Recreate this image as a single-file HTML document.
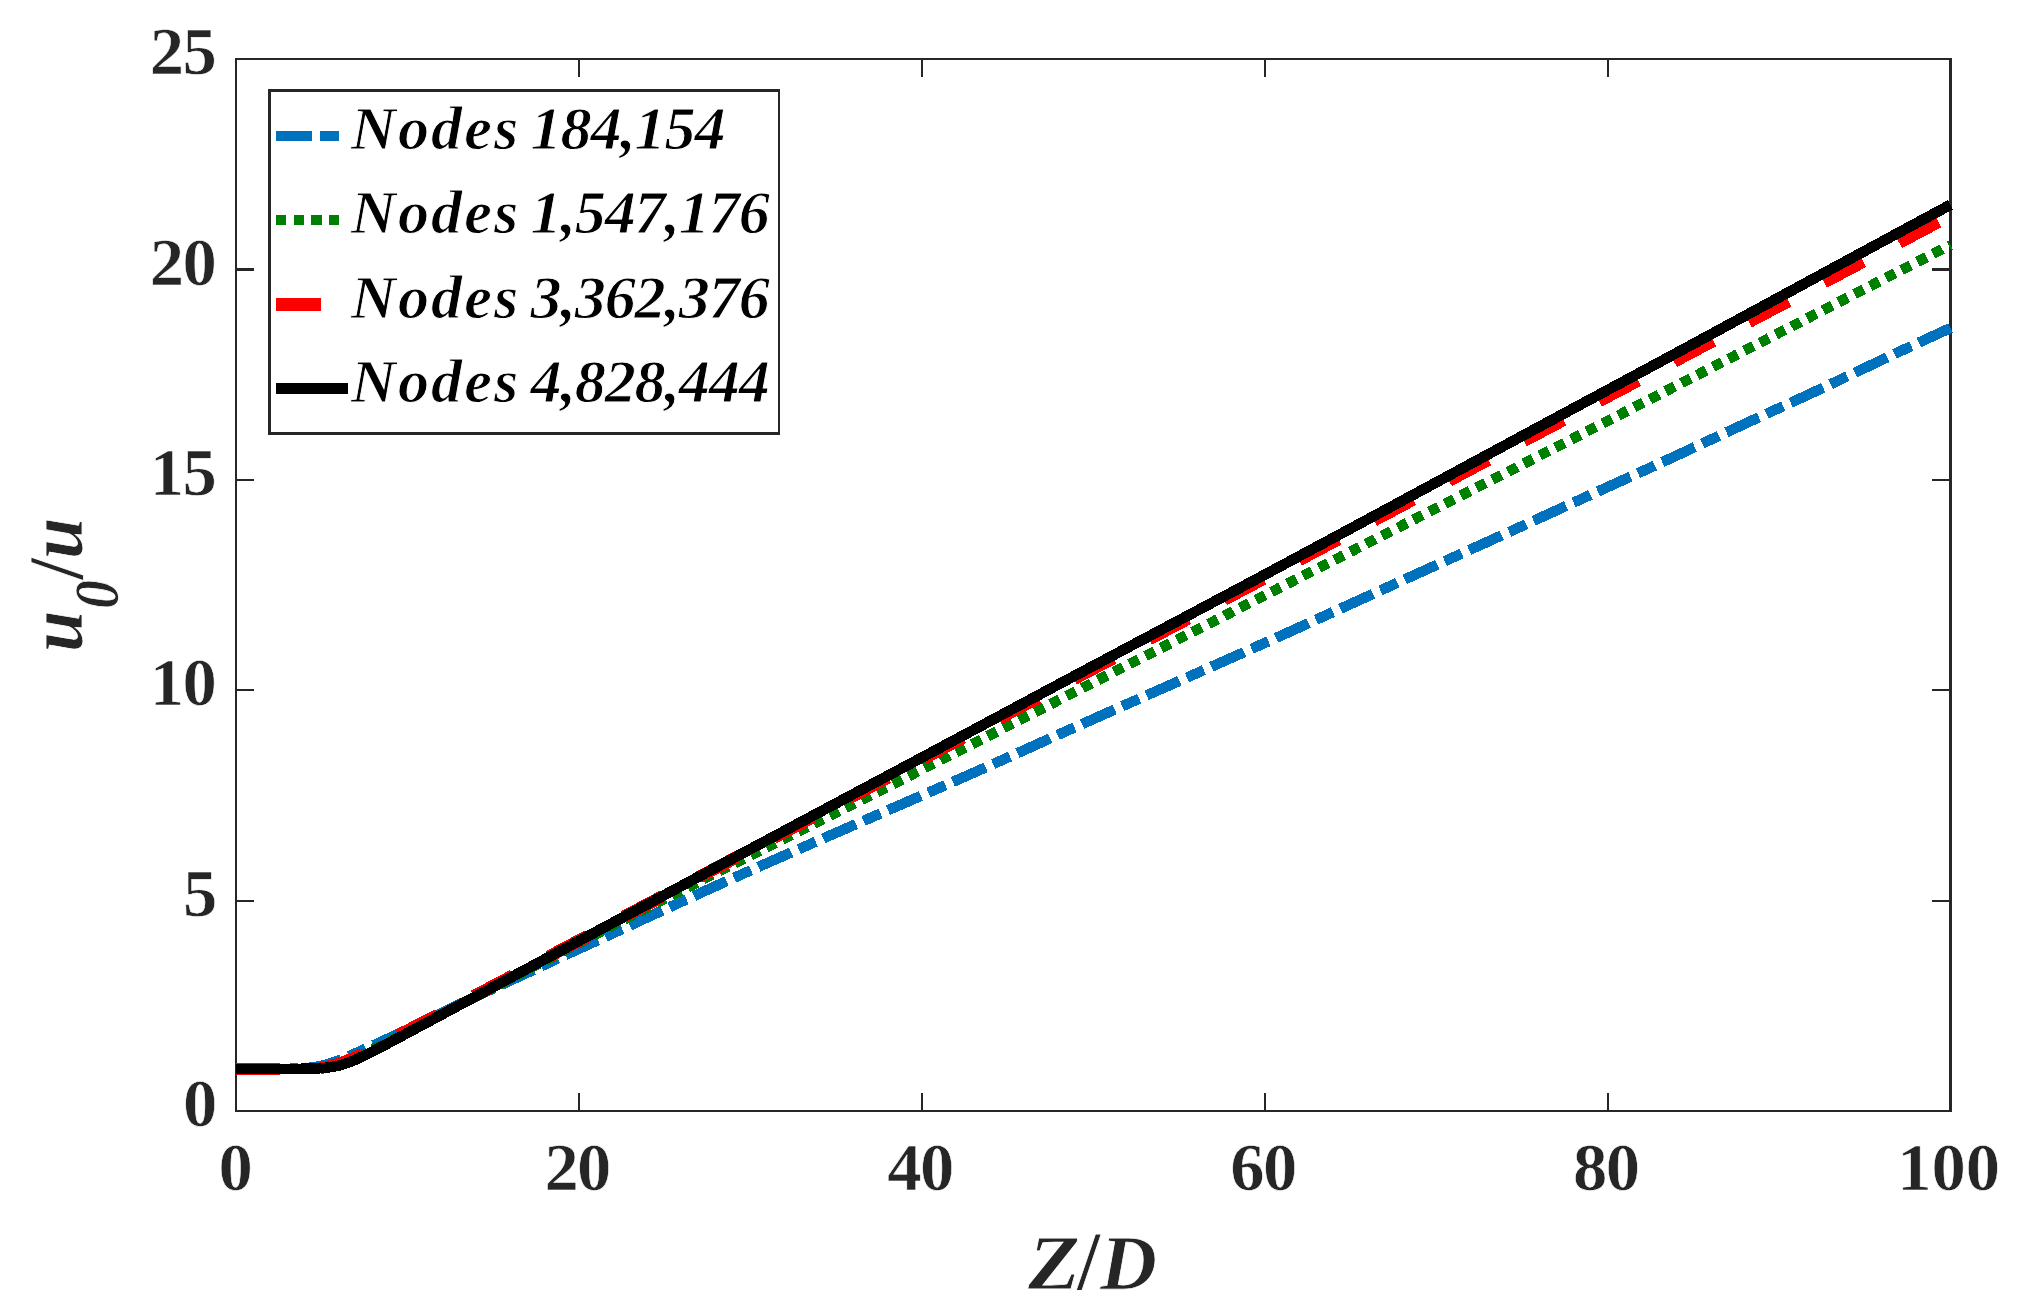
<!DOCTYPE html>
<html lang="en"><head><meta charset="utf-8"><title>Grid independence: u0/u versus Z/D</title>
<style>html,body{margin:0;padding:0;background:#fff}svg{display:block}text{font-family:"Liberation Serif",serif;font-weight:bold}</style></head><body>
<svg width="2040" height="1315" viewBox="0 0 2040 1315">
<rect x="0" y="0" width="2040" height="1315" fill="#fff"/>
<g stroke="#262626" stroke-width="2.2" fill="none" shape-rendering="crispEdges">
<rect x="236.0" y="59.0" width="1714.5" height="1052.0"/>
<line x1="578.90" y1="1111.0" x2="578.90" y2="1092.8"/>
<line x1="578.90" y1="59.0" x2="578.90" y2="77.2"/>
<line x1="921.80" y1="1111.0" x2="921.80" y2="1092.8"/>
<line x1="921.80" y1="59.0" x2="921.80" y2="77.2"/>
<line x1="1264.70" y1="1111.0" x2="1264.70" y2="1092.8"/>
<line x1="1264.70" y1="59.0" x2="1264.70" y2="77.2"/>
<line x1="1607.60" y1="1111.0" x2="1607.60" y2="1092.8"/>
<line x1="1607.60" y1="59.0" x2="1607.60" y2="77.2"/>
<line x1="236.0" y1="900.60" x2="254.2" y2="900.60"/>
<line x1="1950.5" y1="900.60" x2="1932.3" y2="900.60"/>
<line x1="236.0" y1="690.20" x2="254.2" y2="690.20"/>
<line x1="1950.5" y1="690.20" x2="1932.3" y2="690.20"/>
<line x1="236.0" y1="479.80" x2="254.2" y2="479.80"/>
<line x1="1950.5" y1="479.80" x2="1932.3" y2="479.80"/>
<line x1="236.0" y1="269.40" x2="254.2" y2="269.40"/>
<line x1="1950.5" y1="269.40" x2="1932.3" y2="269.40"/>
</g>
<g fill="none" stroke-linejoin="round" shape-rendering="crispEdges">
<polyline id="c-blue" stroke="#0072BD" stroke-width="10.4" stroke-dasharray="35.8 8.2 18.54 8.2" stroke-dashoffset="0" points="236.00,1068.92 237.71,1068.92 239.43,1068.92 241.14,1068.92 242.86,1068.92 244.57,1068.92 246.29,1068.92 248.00,1068.92 249.72,1068.92 251.43,1068.91 253.15,1068.91 254.86,1068.91 256.57,1068.91 258.29,1068.91 260.00,1068.91 261.72,1068.91 263.43,1068.90 265.15,1068.90 266.86,1068.90 268.58,1068.89 270.29,1068.89 272.00,1068.88 273.72,1068.87 275.43,1068.87 277.15,1068.86 278.86,1068.85 280.58,1068.83 282.29,1068.82 284.01,1068.80 285.72,1068.78 287.44,1068.75 289.15,1068.72 290.86,1068.69 292.58,1068.64 294.29,1068.60 296.01,1068.54 297.72,1068.47 299.44,1068.40 301.15,1068.31 302.87,1068.21 304.58,1068.09 306.29,1067.95 308.01,1067.80 309.72,1067.62 311.44,1067.42 313.15,1067.19 314.87,1066.93 316.58,1066.65 318.30,1066.33 320.01,1065.99 321.73,1065.61 323.44,1065.20 325.15,1064.75 326.87,1064.28 328.58,1063.77 330.30,1063.24 332.01,1062.68 333.73,1062.09 335.44,1061.48 337.16,1060.85 338.87,1060.21 340.58,1059.54 342.30,1058.86 344.01,1058.16 345.73,1057.46 347.44,1056.74 349.16,1056.02 350.87,1055.29 352.59,1054.55 354.30,1053.80 356.01,1053.05 357.73,1052.30 359.44,1051.54 361.16,1050.78 362.87,1050.02 364.59,1049.25 366.30,1048.49 368.02,1047.72 369.73,1046.95 371.45,1046.18 373.16,1045.41 374.87,1044.63 376.59,1043.85 378.30,1043.07 380.02,1042.29 381.73,1041.50 383.45,1040.71 385.16,1039.91 386.88,1039.12 388.59,1038.32 390.31,1037.51 392.02,1036.71 393.73,1035.90 395.45,1035.10 397.16,1034.29 398.88,1033.47 400.59,1032.66 402.31,1031.84 404.02,1031.03 405.74,1030.21 407.45,1029.39 409.16,1028.56 410.88,1027.74 412.59,1026.92 414.31,1026.09 416.02,1025.27 417.74,1024.44 419.45,1023.61 421.17,1022.78 422.88,1021.95 424.60,1021.12 426.31,1020.29 428.02,1019.46 429.74,1018.63 431.45,1017.80 433.17,1016.97 434.88,1016.14 436.60,1015.31 438.31,1014.47 440.03,1013.64 441.74,1012.81 443.45,1011.98 445.17,1011.15 446.88,1010.33 448.60,1009.50 450.31,1008.67 452.03,1007.84 453.74,1007.02 455.46,1006.19 457.17,1005.37 458.88,1004.55 460.60,1003.73 462.31,1002.91 464.03,1002.09 465.74,1001.27 467.46,1000.46 469.17,999.65 470.89,998.84 472.60,998.03 474.32,997.22 476.03,996.42 477.74,995.61 479.46,994.81 481.17,994.01 482.89,993.22 484.60,992.43 486.32,991.63 488.03,990.85 489.75,990.06 491.46,989.28 493.18,988.50 494.89,987.72 496.60,986.94 498.32,986.16 500.03,985.38 501.75,984.59 503.46,983.80 505.18,983.01 506.89,982.22 508.61,981.43 510.32,980.64 512.03,979.85 513.75,979.05 515.46,978.26 517.18,977.46 518.89,976.66 520.61,975.87 522.32,975.07 524.04,974.27 525.75,973.47 527.46,972.67 529.18,971.87 530.89,971.06 532.61,970.26 534.32,969.46 536.04,968.66 537.75,967.86 539.47,967.06 541.18,966.26 542.90,965.45 544.61,964.65 546.32,963.85 548.04,963.05 549.75,962.25 551.47,961.45 553.18,960.66 554.90,959.86 556.61,959.06 558.33,958.27 560.04,957.47 561.75,956.68 563.47,955.89 565.18,955.09 566.90,954.30 568.61,953.52 570.33,952.73 572.04,951.94 573.76,951.16 575.47,950.38 577.19,949.60 578.90,948.82 580.61,948.04 582.33,947.26 584.04,946.48 585.76,945.70 587.47,944.92 589.19,944.14 590.90,943.36 592.62,942.58 594.33,941.79 596.05,941.01 597.76,940.22 599.47,939.44 601.19,938.65 602.90,937.87 604.62,937.08 606.33,936.30 608.05,935.51 609.76,934.72 611.48,933.93 613.19,933.15 614.90,932.36 616.62,931.57 618.33,930.78 620.05,929.99 621.76,929.20 623.48,928.41 625.19,927.62 626.91,926.83 628.62,926.04 630.34,925.25 632.05,924.46 633.76,923.67 635.48,922.88 637.19,922.08 638.91,921.29 640.62,920.50 642.34,919.71 644.05,918.92 645.77,918.13 647.48,917.34 649.19,916.54 650.91,915.75 652.62,914.96 654.34,914.17 656.05,913.38 657.77,912.59 659.48,911.80 661.20,911.01 662.91,910.22 664.62,909.43 666.34,908.64 668.05,907.85 669.77,907.06 671.48,906.27 673.20,905.48 674.91,904.69 676.63,903.90 678.34,903.11 680.06,902.33 681.77,901.54 683.48,900.75 685.20,899.97 686.91,899.18 688.63,898.40 690.34,897.61 692.06,896.83 693.77,896.04 695.49,895.26 697.20,894.48 698.91,893.70 700.63,892.92 702.34,892.13 704.06,891.35 705.77,890.57 707.49,889.80 709.20,889.02 710.92,888.24 712.63,887.46 714.35,886.69 716.06,885.91 717.77,885.14 719.49,884.36 721.20,883.59 722.92,882.82 724.63,882.05 726.35,881.27 728.06,880.50 729.78,879.73 731.49,878.96 733.20,878.19 734.92,877.43 736.63,876.66 738.35,875.89 740.06,875.12 741.78,874.36 743.49,873.59 745.21,872.82 746.92,872.06 748.64,871.30 750.35,870.53 752.06,869.77 753.78,869.01 755.49,868.24 757.21,867.48 758.92,866.72 760.64,865.96 762.35,865.20 764.07,864.44 765.78,863.68 767.50,862.92 769.21,862.16 770.92,861.40 772.64,860.65 774.35,859.89 776.07,859.13 777.78,858.37 779.50,857.62 781.21,856.86 782.93,856.11 784.64,855.35 786.35,854.60 788.07,853.84 789.78,853.09 791.50,852.33 793.21,851.58 794.93,850.83 796.64,850.08 798.36,849.32 800.07,848.57 801.78,847.82 803.50,847.07 805.21,846.32 806.93,845.56 808.64,844.81 810.36,844.06 812.07,843.31 813.79,842.56 815.50,841.81 817.22,841.06 818.93,840.31 820.64,839.57 822.36,838.82 824.07,838.07 825.79,837.32 827.50,836.57 829.22,835.82 830.93,835.08 832.65,834.33 834.36,833.58 836.07,832.83 837.79,832.09 839.50,831.34 841.22,830.59 842.93,829.84 844.65,829.10 846.36,828.35 848.08,827.60 849.79,826.86 851.51,826.11 853.22,825.36 854.93,824.62 856.65,823.87 858.36,823.13 860.08,822.38 861.79,821.63 863.51,820.89 865.22,820.14 866.94,819.40 868.65,818.65 870.37,817.90 872.08,817.16 873.79,816.41 875.51,815.67 877.22,814.92 878.94,814.17 880.65,813.43 882.37,812.68 884.08,811.94 885.80,811.19 887.51,810.44 889.22,809.70 890.94,808.95 892.65,808.21 894.37,807.46 896.08,806.71 897.80,805.97 899.51,805.22 901.23,804.47 902.94,803.72 904.65,802.98 906.37,802.23 908.08,801.48 909.80,800.74 911.51,799.99 913.23,799.24 914.94,798.49 916.66,797.74 918.37,796.99 920.09,796.25 921.80,795.50 923.51,794.75 925.23,794.00 926.94,793.25 928.66,792.50 930.37,791.75 932.09,791.00 933.80,790.25 935.52,789.50 937.23,788.75 938.94,788.00 940.66,787.24 942.37,786.49 944.09,785.74 945.80,784.99 947.52,784.23 949.23,783.48 950.95,782.73 952.66,781.97 954.38,781.22 956.09,780.47 957.80,779.71 959.52,778.96 961.23,778.20 962.95,777.44 964.66,776.69 966.38,775.93 968.09,775.17 969.81,774.42 971.52,773.66 973.24,772.90 974.95,772.14 976.66,771.38 978.38,770.62 980.09,769.86 981.81,769.10 983.52,768.34 985.24,767.58 986.95,766.82 988.67,766.06 990.38,765.29 992.09,764.53 993.81,763.77 995.52,763.00 997.24,762.24 998.95,761.47 1000.67,760.71 1002.38,759.94 1004.10,759.17 1005.81,758.41 1007.52,757.64 1009.24,756.87 1010.95,756.10 1012.67,755.33 1014.38,754.56 1016.10,753.79 1017.81,753.02 1019.53,752.24 1021.24,751.47 1022.96,750.70 1024.67,749.92 1026.38,749.15 1028.10,748.37 1029.81,747.60 1031.53,746.82 1033.24,746.04 1034.96,745.27 1036.67,744.49 1038.39,743.71 1040.10,742.94 1041.82,742.16 1043.53,741.39 1045.24,740.61 1046.96,739.84 1048.67,739.07 1050.39,738.29 1052.10,737.52 1053.82,736.75 1055.53,735.98 1057.25,735.20 1058.96,734.43 1060.67,733.66 1062.39,732.89 1064.10,732.12 1065.82,731.35 1067.53,730.58 1069.25,729.81 1070.96,729.05 1072.68,728.28 1074.39,727.51 1076.11,726.74 1077.82,725.98 1079.53,725.21 1081.25,724.44 1082.96,723.68 1084.68,722.91 1086.39,722.15 1088.11,721.38 1089.82,720.62 1091.54,719.85 1093.25,719.09 1094.96,718.32 1096.68,717.56 1098.39,716.80 1100.11,716.03 1101.82,715.27 1103.54,714.51 1105.25,713.74 1106.97,712.98 1108.68,712.22 1110.39,711.46 1112.11,710.70 1113.82,709.94 1115.54,709.17 1117.25,708.41 1118.97,707.65 1120.68,706.89 1122.40,706.13 1124.11,705.37 1125.83,704.61 1127.54,703.85 1129.25,703.09 1130.97,702.33 1132.68,701.57 1134.40,700.81 1136.11,700.05 1137.83,699.29 1139.54,698.53 1141.26,697.78 1142.97,697.02 1144.68,696.26 1146.40,695.50 1148.11,694.74 1149.83,693.98 1151.54,693.22 1153.26,692.47 1154.97,691.71 1156.69,690.95 1158.40,690.19 1160.12,689.43 1161.83,688.67 1163.54,687.91 1165.26,687.16 1166.97,686.40 1168.69,685.64 1170.40,684.88 1172.12,684.12 1173.83,683.37 1175.55,682.61 1177.26,681.85 1178.97,681.09 1180.69,680.33 1182.40,679.57 1184.12,678.81 1185.83,678.06 1187.55,677.30 1189.26,676.54 1190.98,675.78 1192.69,675.02 1194.41,674.26 1196.12,673.50 1197.83,672.74 1199.55,671.98 1201.26,671.22 1202.98,670.46 1204.69,669.70 1206.41,668.94 1208.12,668.18 1209.84,667.42 1211.55,666.66 1213.26,665.90 1214.98,665.14 1216.69,664.38 1218.41,663.62 1220.12,662.86 1221.84,662.10 1223.55,661.33 1225.27,660.57 1226.98,659.81 1228.70,659.05 1230.41,658.29 1232.12,657.52 1233.84,656.76 1235.55,656.00 1237.27,655.23 1238.98,654.47 1240.70,653.70 1242.41,652.94 1244.13,652.17 1245.84,651.41 1247.55,650.64 1249.27,649.88 1250.98,649.11 1252.70,648.35 1254.41,647.58 1256.13,646.81 1257.84,646.04 1259.56,645.28 1261.27,644.51 1262.99,643.74 1264.70,642.97 1266.41,642.20 1268.13,641.43 1269.84,640.66 1271.56,639.89 1273.27,639.12 1274.99,638.35 1276.70,637.58 1278.42,636.81 1280.13,636.04 1281.85,635.26 1283.56,634.49 1285.27,633.72 1286.99,632.94 1288.70,632.17 1290.42,631.39 1292.13,630.62 1293.85,629.84 1295.56,629.06 1297.28,628.29 1298.99,627.51 1300.70,626.73 1302.42,625.96 1304.13,625.18 1305.85,624.40 1307.56,623.62 1309.28,622.84 1310.99,622.06 1312.71,621.29 1314.42,620.51 1316.13,619.73 1317.85,618.95 1319.56,618.17 1321.28,617.39 1322.99,616.61 1324.71,615.83 1326.42,615.05 1328.14,614.28 1329.85,613.50 1331.57,612.72 1333.28,611.94 1334.99,611.16 1336.71,610.38 1338.42,609.60 1340.14,608.82 1341.85,608.04 1343.57,607.26 1345.28,606.48 1347.00,605.70 1348.71,604.92 1350.42,604.14 1352.14,603.36 1353.85,602.58 1355.57,601.80 1357.28,601.02 1359.00,600.24 1360.71,599.46 1362.43,598.68 1364.14,597.90 1365.86,597.12 1367.57,596.33 1369.28,595.55 1371.00,594.77 1372.71,593.99 1374.43,593.21 1376.14,592.43 1377.86,591.65 1379.57,590.87 1381.29,590.09 1383.00,589.31 1384.71,588.53 1386.43,587.75 1388.14,586.97 1389.86,586.19 1391.57,585.41 1393.29,584.63 1395.00,583.84 1396.72,583.06 1398.43,582.28 1400.15,581.50 1401.86,580.72 1403.57,579.94 1405.29,579.16 1407.00,578.38 1408.72,577.60 1410.43,576.82 1412.15,576.04 1413.86,575.26 1415.58,574.48 1417.29,573.70 1419.00,572.92 1420.72,572.14 1422.43,571.36 1424.15,570.58 1425.86,569.80 1427.58,569.02 1429.29,568.24 1431.01,567.46 1432.72,566.68 1434.44,565.90 1436.15,565.12 1437.86,564.34 1439.58,563.56 1441.29,562.78 1443.01,562.00 1444.72,561.22 1446.44,560.44 1448.15,559.67 1449.87,558.89 1451.58,558.11 1453.30,557.33 1455.01,556.55 1456.72,555.77 1458.44,554.99 1460.15,554.21 1461.87,553.44 1463.58,552.66 1465.30,551.88 1467.01,551.10 1468.73,550.32 1470.44,549.55 1472.15,548.77 1473.87,547.99 1475.58,547.21 1477.30,546.43 1479.01,545.66 1480.73,544.88 1482.44,544.10 1484.16,543.32 1485.87,542.54 1487.59,541.76 1489.30,540.98 1491.01,540.20 1492.73,539.42 1494.44,538.64 1496.16,537.86 1497.87,537.08 1499.59,536.30 1501.30,535.52 1503.02,534.74 1504.73,533.96 1506.44,533.18 1508.16,532.40 1509.87,531.62 1511.59,530.84 1513.30,530.06 1515.02,529.28 1516.73,528.50 1518.45,527.72 1520.16,526.93 1521.88,526.15 1523.59,525.37 1525.30,524.59 1527.02,523.81 1528.73,523.03 1530.45,522.24 1532.16,521.46 1533.88,520.68 1535.59,519.90 1537.31,519.12 1539.02,518.34 1540.73,517.55 1542.45,516.77 1544.16,515.99 1545.88,515.21 1547.59,514.43 1549.31,513.64 1551.02,512.86 1552.74,512.08 1554.45,511.30 1556.16,510.51 1557.88,509.73 1559.59,508.95 1561.31,508.17 1563.02,507.39 1564.74,506.60 1566.45,505.82 1568.17,505.04 1569.88,504.26 1571.60,503.48 1573.31,502.69 1575.02,501.91 1576.74,501.13 1578.45,500.35 1580.17,499.57 1581.88,498.78 1583.60,498.00 1585.31,497.22 1587.03,496.44 1588.74,495.66 1590.45,494.88 1592.17,494.10 1593.88,493.31 1595.60,492.53 1597.31,491.75 1599.03,490.97 1600.74,490.19 1602.46,489.41 1604.17,488.63 1605.89,487.85 1607.60,487.07 1609.31,486.29 1611.03,485.51 1612.74,484.73 1614.46,483.95 1616.17,483.17 1617.89,482.39 1619.60,481.61 1621.32,480.83 1623.03,480.05 1624.74,479.27 1626.46,478.49 1628.17,477.71 1629.89,476.93 1631.60,476.15 1633.32,475.37 1635.03,474.59 1636.75,473.82 1638.46,473.04 1640.18,472.26 1641.89,471.48 1643.60,470.70 1645.32,469.93 1647.03,469.15 1648.75,468.36 1650.46,467.58 1652.18,466.80 1653.89,466.01 1655.61,465.23 1657.32,464.44 1659.03,463.65 1660.75,462.87 1662.46,462.08 1664.18,461.29 1665.89,460.50 1667.61,459.71 1669.32,458.92 1671.04,458.12 1672.75,457.33 1674.47,456.54 1676.18,455.74 1677.89,454.95 1679.61,454.15 1681.32,453.36 1683.04,452.56 1684.75,451.76 1686.47,450.97 1688.18,450.17 1689.90,449.37 1691.61,448.57 1693.33,447.77 1695.04,446.98 1696.75,446.18 1698.47,445.38 1700.18,444.58 1701.90,443.78 1703.61,442.98 1705.33,442.18 1707.04,441.38 1708.76,440.58 1710.47,439.78 1712.18,438.98 1713.90,438.18 1715.61,437.38 1717.33,436.58 1719.04,435.78 1720.76,434.98 1722.47,434.18 1724.19,433.38 1725.90,432.58 1727.62,431.78 1729.33,430.98 1731.04,430.18 1732.76,429.39 1734.47,428.59 1736.19,427.79 1737.90,426.99 1739.62,426.20 1741.33,425.40 1743.05,424.61 1744.76,423.81 1746.47,423.02 1748.19,422.22 1749.90,421.43 1751.62,420.64 1753.33,419.85 1755.05,419.06 1756.76,418.27 1758.48,417.48 1760.19,416.69 1761.90,415.90 1763.62,415.11 1765.33,414.33 1767.05,413.54 1768.76,412.76 1770.48,411.97 1772.19,411.19 1773.91,410.41 1775.62,409.63 1777.34,408.85 1779.05,408.07 1780.76,407.29 1782.48,406.51 1784.19,405.73 1785.91,404.95 1787.62,404.17 1789.34,403.38 1791.05,402.60 1792.77,401.81 1794.48,401.02 1796.19,400.23 1797.91,399.44 1799.62,398.65 1801.34,397.86 1803.05,397.06 1804.77,396.27 1806.48,395.47 1808.20,394.68 1809.91,393.88 1811.63,393.08 1813.34,392.28 1815.05,391.48 1816.77,390.68 1818.48,389.88 1820.20,389.07 1821.91,388.27 1823.63,387.47 1825.34,386.66 1827.06,385.86 1828.77,385.05 1830.48,384.25 1832.20,383.44 1833.91,382.63 1835.63,381.82 1837.34,381.02 1839.06,380.21 1840.77,379.40 1842.49,378.59 1844.20,377.78 1845.92,376.97 1847.63,376.16 1849.34,375.35 1851.06,374.53 1852.77,373.72 1854.49,372.91 1856.20,372.10 1857.92,371.29 1859.63,370.48 1861.35,369.66 1863.06,368.85 1864.77,368.04 1866.49,367.23 1868.20,366.42 1869.92,365.60 1871.63,364.79 1873.35,363.98 1875.06,363.17 1876.78,362.36 1878.49,361.55 1880.21,360.73 1881.92,359.92 1883.63,359.11 1885.35,358.30 1887.06,357.49 1888.78,356.68 1890.49,355.87 1892.21,355.06 1893.92,354.26 1895.64,353.45 1897.35,352.64 1899.07,351.83 1900.78,351.03 1902.49,350.22 1904.21,349.42 1905.92,348.61 1907.64,347.81 1909.35,347.01 1911.07,346.20 1912.78,345.40 1914.50,344.60 1916.21,343.80 1917.92,343.00 1919.64,342.20 1921.35,341.40 1923.07,340.61 1924.78,339.81 1926.50,339.02 1928.21,338.22 1929.93,337.43 1931.64,336.64 1933.36,335.85 1935.07,335.06 1936.78,334.27 1938.50,333.48 1940.21,332.70 1941.93,331.91 1943.64,331.13 1945.36,330.35 1947.07,329.57 1948.79,328.79 1950.50,328.01"/>
<polyline id="c-green" stroke="#008000" stroke-width="10.4" stroke-dasharray="10.3 7.39" stroke-dashoffset="1" points="236.00,1068.92 237.71,1068.92 239.43,1068.92 241.14,1068.92 242.86,1068.92 244.57,1068.92 246.29,1068.92 248.00,1068.92 249.72,1068.92 251.43,1068.92 253.15,1068.92 254.86,1068.92 256.57,1068.92 258.29,1068.92 260.00,1068.92 261.72,1068.92 263.43,1068.92 265.15,1068.91 266.86,1068.91 268.58,1068.91 270.29,1068.91 272.00,1068.91 273.72,1068.91 275.43,1068.90 277.15,1068.90 278.86,1068.90 280.58,1068.89 282.29,1068.89 284.01,1068.88 285.72,1068.88 287.44,1068.87 289.15,1068.86 290.86,1068.85 292.58,1068.84 294.29,1068.82 296.01,1068.80 297.72,1068.78 299.44,1068.76 301.15,1068.73 302.87,1068.70 304.58,1068.66 306.29,1068.61 308.01,1068.56 309.72,1068.49 311.44,1068.42 313.15,1068.33 314.87,1068.23 316.58,1068.12 318.30,1067.98 320.01,1067.83 321.73,1067.66 323.44,1067.46 325.15,1067.23 326.87,1066.97 328.58,1066.69 330.30,1066.37 332.01,1066.01 333.73,1065.62 335.44,1065.20 337.16,1064.73 338.87,1064.24 340.58,1063.70 342.30,1063.13 344.01,1062.54 345.73,1061.90 347.44,1061.25 349.16,1060.56 350.87,1059.85 352.59,1059.13 354.30,1058.38 356.01,1057.61 357.73,1056.83 359.44,1056.04 361.16,1055.23 362.87,1054.42 364.59,1053.60 366.30,1052.77 368.02,1051.93 369.73,1051.09 371.45,1050.24 373.16,1049.39 374.87,1048.53 376.59,1047.68 378.30,1046.82 380.02,1045.95 381.73,1045.09 383.45,1044.22 385.16,1043.35 386.88,1042.48 388.59,1041.61 390.31,1040.73 392.02,1039.86 393.73,1038.98 395.45,1038.11 397.16,1037.23 398.88,1036.35 400.59,1035.47 402.31,1034.60 404.02,1033.72 405.74,1032.84 407.45,1031.96 409.16,1031.08 410.88,1030.19 412.59,1029.31 414.31,1028.43 416.02,1027.55 417.74,1026.67 419.45,1025.78 421.17,1024.90 422.88,1024.02 424.60,1023.13 426.31,1022.25 428.02,1021.36 429.74,1020.48 431.45,1019.59 433.17,1018.71 434.88,1017.82 436.60,1016.94 438.31,1016.05 440.03,1015.16 441.74,1014.28 443.45,1013.39 445.17,1012.50 446.88,1011.62 448.60,1010.73 450.31,1009.84 452.03,1008.95 453.74,1008.06 455.46,1007.18 457.17,1006.29 458.88,1005.40 460.60,1004.51 462.31,1003.62 464.03,1002.73 465.74,1001.84 467.46,1000.95 469.17,1000.06 470.89,999.18 472.60,998.29 474.32,997.40 476.03,996.51 477.74,995.62 479.46,994.73 481.17,993.83 482.89,992.94 484.60,992.05 486.32,991.16 488.03,990.27 489.75,989.38 491.46,988.49 493.18,987.60 494.89,986.71 496.60,985.82 498.32,984.93 500.03,984.03 501.75,983.14 503.46,982.25 505.18,981.36 506.89,980.47 508.61,979.58 510.32,978.69 512.03,977.79 513.75,976.90 515.46,976.01 517.18,975.12 518.89,974.23 520.61,973.34 522.32,972.44 524.04,971.55 525.75,970.66 527.46,969.77 529.18,968.88 530.89,967.99 532.61,967.09 534.32,966.20 536.04,965.31 537.75,964.42 539.47,963.53 541.18,962.64 542.90,961.75 544.61,960.86 546.32,959.96 548.04,959.07 549.75,958.18 551.47,957.29 553.18,956.40 554.90,955.51 556.61,954.62 558.33,953.73 560.04,952.84 561.75,951.95 563.47,951.06 565.18,950.17 566.90,949.28 568.61,948.39 570.33,947.50 572.04,946.61 573.76,945.72 575.47,944.83 577.19,943.94 578.90,943.05 580.61,942.17 582.33,941.28 584.04,940.39 585.76,939.50 587.47,938.61 589.19,937.73 590.90,936.84 592.62,935.95 594.33,935.06 596.05,934.18 597.76,933.29 599.47,932.40 601.19,931.52 602.90,930.63 604.62,929.75 606.33,928.86 608.05,927.98 609.76,927.09 611.48,926.21 613.19,925.32 614.90,924.44 616.62,923.55 618.33,922.67 620.05,921.79 621.76,920.90 623.48,920.02 625.19,919.14 626.91,918.26 628.62,917.37 630.34,916.49 632.05,915.61 633.76,914.73 635.48,913.85 637.19,912.97 638.91,912.09 640.62,911.21 642.34,910.33 644.05,909.45 645.77,908.57 647.48,907.70 649.19,906.82 650.91,905.94 652.62,905.06 654.34,904.19 656.05,903.31 657.77,902.44 659.48,901.56 661.20,900.69 662.91,899.81 664.62,898.94 666.34,898.06 668.05,897.19 669.77,896.32 671.48,895.44 673.20,894.57 674.91,893.70 676.63,892.83 678.34,891.95 680.06,891.08 681.77,890.21 683.48,889.34 685.20,888.47 686.91,887.60 688.63,886.73 690.34,885.86 692.06,884.99 693.77,884.12 695.49,883.25 697.20,882.38 698.91,881.51 700.63,880.64 702.34,879.78 704.06,878.91 705.77,878.04 707.49,877.17 709.20,876.31 710.92,875.44 712.63,874.57 714.35,873.70 716.06,872.84 717.77,871.97 719.49,871.11 721.20,870.24 722.92,869.37 724.63,868.51 726.35,867.64 728.06,866.78 729.78,865.91 731.49,865.05 733.20,864.18 734.92,863.32 736.63,862.46 738.35,861.59 740.06,860.73 741.78,859.87 743.49,859.00 745.21,858.14 746.92,857.28 748.64,856.41 750.35,855.55 752.06,854.69 753.78,853.82 755.49,852.96 757.21,852.10 758.92,851.24 760.64,850.38 762.35,849.51 764.07,848.65 765.78,847.79 767.50,846.93 769.21,846.07 770.92,845.21 772.64,844.35 774.35,843.48 776.07,842.62 777.78,841.76 779.50,840.90 781.21,840.04 782.93,839.18 784.64,838.32 786.35,837.46 788.07,836.60 789.78,835.74 791.50,834.88 793.21,834.02 794.93,833.16 796.64,832.30 798.36,831.44 800.07,830.58 801.78,829.72 803.50,828.86 805.21,828.00 806.93,827.14 808.64,826.28 810.36,825.42 812.07,824.56 813.79,823.70 815.50,822.85 817.22,821.99 818.93,821.13 820.64,820.27 822.36,819.41 824.07,818.55 825.79,817.69 827.50,816.83 829.22,815.97 830.93,815.11 832.65,814.25 834.36,813.40 836.07,812.54 837.79,811.68 839.50,810.82 841.22,809.96 842.93,809.10 844.65,808.24 846.36,807.38 848.08,806.52 849.79,805.66 851.51,804.81 853.22,803.95 854.93,803.09 856.65,802.23 858.36,801.37 860.08,800.51 861.79,799.65 863.51,798.79 865.22,797.93 866.94,797.07 868.65,796.21 870.37,795.35 872.08,794.49 873.79,793.63 875.51,792.77 877.22,791.91 878.94,791.05 880.65,790.19 882.37,789.33 884.08,788.47 885.80,787.61 887.51,786.75 889.22,785.89 890.94,785.03 892.65,784.17 894.37,783.31 896.08,782.45 897.80,781.59 899.51,780.73 901.23,779.87 902.94,779.01 904.65,778.14 906.37,777.28 908.08,776.42 909.80,775.56 911.51,774.70 913.23,773.84 914.94,772.97 916.66,772.11 918.37,771.25 920.09,770.39 921.80,769.52 923.51,768.66 925.23,767.80 926.94,766.94 928.66,766.07 930.37,765.21 932.09,764.34 933.80,763.48 935.52,762.62 937.23,761.75 938.94,760.89 940.66,760.02 942.37,759.16 944.09,758.29 945.80,757.43 947.52,756.56 949.23,755.70 950.95,754.83 952.66,753.97 954.38,753.10 956.09,752.24 957.80,751.37 959.52,750.50 961.23,749.64 962.95,748.77 964.66,747.90 966.38,747.03 968.09,746.17 969.81,745.30 971.52,744.43 973.24,743.56 974.95,742.69 976.66,741.82 978.38,740.95 980.09,740.08 981.81,739.21 983.52,738.34 985.24,737.47 986.95,736.60 988.67,735.73 990.38,734.86 992.09,733.99 993.81,733.12 995.52,732.25 997.24,731.38 998.95,730.50 1000.67,729.63 1002.38,728.76 1004.10,727.88 1005.81,727.01 1007.52,726.14 1009.24,725.26 1010.95,724.39 1012.67,723.51 1014.38,722.64 1016.10,721.77 1017.81,720.89 1019.53,720.02 1021.24,719.15 1022.96,718.27 1024.67,717.40 1026.38,716.52 1028.10,715.65 1029.81,714.78 1031.53,713.90 1033.24,713.03 1034.96,712.16 1036.67,711.28 1038.39,710.41 1040.10,709.54 1041.82,708.66 1043.53,707.79 1045.24,706.92 1046.96,706.04 1048.67,705.17 1050.39,704.30 1052.10,703.42 1053.82,702.55 1055.53,701.68 1057.25,700.80 1058.96,699.93 1060.67,699.06 1062.39,698.19 1064.10,697.31 1065.82,696.44 1067.53,695.57 1069.25,694.69 1070.96,693.82 1072.68,692.95 1074.39,692.08 1076.11,691.20 1077.82,690.33 1079.53,689.46 1081.25,688.59 1082.96,687.71 1084.68,686.84 1086.39,685.97 1088.11,685.09 1089.82,684.22 1091.54,683.35 1093.25,682.48 1094.96,681.61 1096.68,680.73 1098.39,679.86 1100.11,678.99 1101.82,678.12 1103.54,677.24 1105.25,676.37 1106.97,675.50 1108.68,674.63 1110.39,673.75 1112.11,672.88 1113.82,672.01 1115.54,671.14 1117.25,670.27 1118.97,669.39 1120.68,668.52 1122.40,667.65 1124.11,666.78 1125.83,665.91 1127.54,665.03 1129.25,664.16 1130.97,663.29 1132.68,662.42 1134.40,661.55 1136.11,660.67 1137.83,659.80 1139.54,658.93 1141.26,658.06 1142.97,657.19 1144.68,656.31 1146.40,655.44 1148.11,654.57 1149.83,653.70 1151.54,652.83 1153.26,651.96 1154.97,651.08 1156.69,650.21 1158.40,649.34 1160.12,648.47 1161.83,647.60 1163.54,646.73 1165.26,645.85 1166.97,644.98 1168.69,644.11 1170.40,643.24 1172.12,642.37 1173.83,641.50 1175.55,640.63 1177.26,639.75 1178.97,638.88 1180.69,638.01 1182.40,637.14 1184.12,636.27 1185.83,635.40 1187.55,634.53 1189.26,633.65 1190.98,632.78 1192.69,631.91 1194.41,631.04 1196.12,630.17 1197.83,629.30 1199.55,628.43 1201.26,627.55 1202.98,626.68 1204.69,625.81 1206.41,624.94 1208.12,624.07 1209.84,623.20 1211.55,622.33 1213.26,621.46 1214.98,620.59 1216.69,619.71 1218.41,618.84 1220.12,617.97 1221.84,617.10 1223.55,616.23 1225.27,615.36 1226.98,614.49 1228.70,613.62 1230.41,612.75 1232.12,611.87 1233.84,611.00 1235.55,610.13 1237.27,609.26 1238.98,608.39 1240.70,607.52 1242.41,606.65 1244.13,605.78 1245.84,604.91 1247.55,604.03 1249.27,603.16 1250.98,602.29 1252.70,601.42 1254.41,600.55 1256.13,599.68 1257.84,598.81 1259.56,597.94 1261.27,597.07 1262.99,596.20 1264.70,595.32 1266.41,594.45 1268.13,593.58 1269.84,592.71 1271.56,591.84 1273.27,590.97 1274.99,590.10 1276.70,589.23 1278.42,588.36 1280.13,587.49 1281.85,586.62 1283.56,585.74 1285.27,584.87 1286.99,584.00 1288.70,583.13 1290.42,582.26 1292.13,581.39 1293.85,580.52 1295.56,579.65 1297.28,578.78 1298.99,577.91 1300.70,577.04 1302.42,576.16 1304.13,575.29 1305.85,574.42 1307.56,573.55 1309.28,572.68 1310.99,571.81 1312.71,570.94 1314.42,570.07 1316.13,569.20 1317.85,568.33 1319.56,567.46 1321.28,566.58 1322.99,565.71 1324.71,564.84 1326.42,563.97 1328.14,563.10 1329.85,562.23 1331.57,561.36 1333.28,560.49 1334.99,559.62 1336.71,558.75 1338.42,557.87 1340.14,557.00 1341.85,556.13 1343.57,555.26 1345.28,554.39 1347.00,553.52 1348.71,552.65 1350.42,551.78 1352.14,550.91 1353.85,550.04 1355.57,549.16 1357.28,548.29 1359.00,547.42 1360.71,546.55 1362.43,545.68 1364.14,544.81 1365.86,543.94 1367.57,543.07 1369.28,542.20 1371.00,541.33 1372.71,540.45 1374.43,539.58 1376.14,538.71 1377.86,537.84 1379.57,536.97 1381.29,536.10 1383.00,535.23 1384.71,534.36 1386.43,533.48 1388.14,532.61 1389.86,531.74 1391.57,530.87 1393.29,530.00 1395.00,529.13 1396.72,528.26 1398.43,527.39 1400.15,526.52 1401.86,525.64 1403.57,524.77 1405.29,523.90 1407.00,523.03 1408.72,522.16 1410.43,521.29 1412.15,520.42 1413.86,519.54 1415.58,518.67 1417.29,517.80 1419.00,516.93 1420.72,516.06 1422.43,515.19 1424.15,514.32 1425.86,513.44 1427.58,512.57 1429.29,511.70 1431.01,510.83 1432.72,509.96 1434.44,509.09 1436.15,508.21 1437.86,507.34 1439.58,506.47 1441.29,505.60 1443.01,504.73 1444.72,503.86 1446.44,502.99 1448.15,502.11 1449.87,501.24 1451.58,500.37 1453.30,499.50 1455.01,498.63 1456.72,497.75 1458.44,496.88 1460.15,496.01 1461.87,495.14 1463.58,494.27 1465.30,493.40 1467.01,492.52 1468.73,491.65 1470.44,490.78 1472.15,489.91 1473.87,489.04 1475.58,488.16 1477.30,487.29 1479.01,486.42 1480.73,485.55 1482.44,484.67 1484.16,483.80 1485.87,482.93 1487.59,482.06 1489.30,481.19 1491.01,480.31 1492.73,479.44 1494.44,478.57 1496.16,477.70 1497.87,476.82 1499.59,475.95 1501.30,475.08 1503.02,474.21 1504.73,473.34 1506.44,472.46 1508.16,471.59 1509.87,470.72 1511.59,469.85 1513.30,468.97 1515.02,468.10 1516.73,467.23 1518.45,466.35 1520.16,465.48 1521.88,464.61 1523.59,463.74 1525.30,462.86 1527.02,461.99 1528.73,461.12 1530.45,460.25 1532.16,459.37 1533.88,458.50 1535.59,457.63 1537.31,456.75 1539.02,455.88 1540.73,455.01 1542.45,454.13 1544.16,453.26 1545.88,452.39 1547.59,451.52 1549.31,450.64 1551.02,449.77 1552.74,448.90 1554.45,448.02 1556.16,447.15 1557.88,446.28 1559.59,445.40 1561.31,444.53 1563.02,443.66 1564.74,442.78 1566.45,441.91 1568.17,441.04 1569.88,440.16 1571.60,439.29 1573.31,438.41 1575.02,437.54 1576.74,436.67 1578.45,435.79 1580.17,434.92 1581.88,434.05 1583.60,433.17 1585.31,432.30 1587.03,431.42 1588.74,430.55 1590.45,429.68 1592.17,428.80 1593.88,427.93 1595.60,427.05 1597.31,426.18 1599.03,425.30 1600.74,424.43 1602.46,423.55 1604.17,422.68 1605.89,421.80 1607.60,420.93 1609.31,420.05 1611.03,419.18 1612.74,418.30 1614.46,417.42 1616.17,416.55 1617.89,415.67 1619.60,414.80 1621.32,413.92 1623.03,413.04 1624.74,412.17 1626.46,411.29 1628.17,410.41 1629.89,409.53 1631.60,408.66 1633.32,407.78 1635.03,406.90 1636.75,406.02 1638.46,405.15 1640.18,404.27 1641.89,403.39 1643.60,402.51 1645.32,401.63 1647.03,400.75 1648.75,399.88 1650.46,399.00 1652.18,398.12 1653.89,397.24 1655.61,396.36 1657.32,395.48 1659.03,394.60 1660.75,393.72 1662.46,392.84 1664.18,391.96 1665.89,391.08 1667.61,390.20 1669.32,389.32 1671.04,388.44 1672.75,387.56 1674.47,386.68 1676.18,385.80 1677.89,384.92 1679.61,384.04 1681.32,383.16 1683.04,382.28 1684.75,381.40 1686.47,380.52 1688.18,379.64 1689.90,378.76 1691.61,377.88 1693.33,377.00 1695.04,376.12 1696.75,375.24 1698.47,374.35 1700.18,373.47 1701.90,372.59 1703.61,371.71 1705.33,370.83 1707.04,369.95 1708.76,369.07 1710.47,368.18 1712.18,367.30 1713.90,366.42 1715.61,365.54 1717.33,364.66 1719.04,363.78 1720.76,362.89 1722.47,362.01 1724.19,361.13 1725.90,360.25 1727.62,359.37 1729.33,358.48 1731.04,357.60 1732.76,356.72 1734.47,355.84 1736.19,354.96 1737.90,354.07 1739.62,353.19 1741.33,352.31 1743.05,351.43 1744.76,350.54 1746.47,349.66 1748.19,348.78 1749.90,347.90 1751.62,347.01 1753.33,346.13 1755.05,345.25 1756.76,344.37 1758.48,343.48 1760.19,342.60 1761.90,341.72 1763.62,340.84 1765.33,339.95 1767.05,339.07 1768.76,338.19 1770.48,337.31 1772.19,336.42 1773.91,335.54 1775.62,334.66 1777.34,333.78 1779.05,332.89 1780.76,332.01 1782.48,331.13 1784.19,330.25 1785.91,329.36 1787.62,328.48 1789.34,327.60 1791.05,326.72 1792.77,325.83 1794.48,324.95 1796.19,324.07 1797.91,323.19 1799.62,322.30 1801.34,321.42 1803.05,320.54 1804.77,319.66 1806.48,318.77 1808.20,317.89 1809.91,317.01 1811.63,316.13 1813.34,315.25 1815.05,314.36 1816.77,313.48 1818.48,312.60 1820.20,311.72 1821.91,310.84 1823.63,309.95 1825.34,309.07 1827.06,308.19 1828.77,307.31 1830.48,306.43 1832.20,305.55 1833.91,304.66 1835.63,303.78 1837.34,302.90 1839.06,302.02 1840.77,301.14 1842.49,300.26 1844.20,299.38 1845.92,298.49 1847.63,297.61 1849.34,296.73 1851.06,295.85 1852.77,294.97 1854.49,294.09 1856.20,293.21 1857.92,292.33 1859.63,291.45 1861.35,290.57 1863.06,289.69 1864.77,288.81 1866.49,287.93 1868.20,287.05 1869.92,286.17 1871.63,285.29 1873.35,284.41 1875.06,283.53 1876.78,282.65 1878.49,281.77 1880.21,280.89 1881.92,280.01 1883.63,279.13 1885.35,278.25 1887.06,277.37 1888.78,276.49 1890.49,275.61 1892.21,274.74 1893.92,273.86 1895.64,272.98 1897.35,272.10 1899.07,271.22 1900.78,270.34 1902.49,269.47 1904.21,268.59 1905.92,267.71 1907.64,266.83 1909.35,265.96 1911.07,265.08 1912.78,264.20 1914.50,263.32 1916.21,262.45 1917.92,261.57 1919.64,260.69 1921.35,259.82 1923.07,258.94 1924.78,258.06 1926.50,257.19 1928.21,256.31 1929.93,255.44 1931.64,254.56 1933.36,253.68 1935.07,252.81 1936.78,251.93 1938.50,251.06 1940.21,250.18 1941.93,249.31 1943.64,248.43 1945.36,247.56 1947.07,246.68 1948.79,245.81 1950.50,244.94"/>
<polyline id="c-red" stroke="#FF0000" stroke-width="12.5" stroke-dasharray="44.5 40.36" stroke-dashoffset="0.3" points="236.00,1068.92 237.71,1068.92 239.43,1068.92 241.14,1068.92 242.86,1068.92 244.57,1068.92 246.29,1068.92 248.00,1068.92 249.72,1068.92 251.43,1068.92 253.15,1068.92 254.86,1068.92 256.57,1068.92 258.29,1068.92 260.00,1068.92 261.72,1068.92 263.43,1068.91 265.15,1068.91 266.86,1068.91 268.58,1068.91 270.29,1068.91 272.00,1068.91 273.72,1068.91 275.43,1068.90 277.15,1068.90 278.86,1068.90 280.58,1068.89 282.29,1068.89 284.01,1068.88 285.72,1068.87 287.44,1068.86 289.15,1068.85 290.86,1068.84 292.58,1068.83 294.29,1068.81 296.01,1068.79 297.72,1068.77 299.44,1068.74 301.15,1068.71 302.87,1068.68 304.58,1068.63 306.29,1068.58 308.01,1068.52 309.72,1068.46 311.44,1068.38 313.15,1068.28 314.87,1068.17 316.58,1068.05 318.30,1067.91 320.01,1067.74 321.73,1067.55 323.44,1067.34 325.15,1067.09 326.87,1066.82 328.58,1066.51 330.30,1066.17 332.01,1065.79 333.73,1065.38 335.44,1064.92 337.16,1064.43 338.87,1063.90 340.58,1063.34 342.30,1062.74 344.01,1062.11 345.73,1061.45 347.44,1060.76 349.16,1060.04 350.87,1059.30 352.59,1058.54 354.30,1057.76 356.01,1056.96 357.73,1056.15 359.44,1055.33 361.16,1054.49 362.87,1053.64 364.59,1052.79 366.30,1051.92 368.02,1051.05 369.73,1050.18 371.45,1049.30 373.16,1048.42 374.87,1047.53 376.59,1046.65 378.30,1045.76 380.02,1044.87 381.73,1043.97 383.45,1043.08 385.16,1042.19 386.88,1041.30 388.59,1040.41 390.31,1039.52 392.02,1038.62 393.73,1037.73 395.45,1036.84 397.16,1035.95 398.88,1035.06 400.59,1034.17 402.31,1033.28 404.02,1032.39 405.74,1031.50 407.45,1030.61 409.16,1029.72 410.88,1028.83 412.59,1027.94 414.31,1027.05 416.02,1026.17 417.74,1025.28 419.45,1024.39 421.17,1023.50 422.88,1022.62 424.60,1021.73 426.31,1020.84 428.02,1019.96 429.74,1019.07 431.45,1018.19 433.17,1017.30 434.88,1016.41 436.60,1015.53 438.31,1014.64 440.03,1013.75 441.74,1012.87 443.45,1011.98 445.17,1011.09 446.88,1010.21 448.60,1009.32 450.31,1008.43 452.03,1007.54 453.74,1006.66 455.46,1005.77 457.17,1004.88 458.88,1003.99 460.60,1003.10 462.31,1002.21 464.03,1001.32 465.74,1000.42 467.46,999.53 469.17,998.64 470.89,997.75 472.60,996.85 474.32,995.96 476.03,995.06 477.74,994.16 479.46,993.27 481.17,992.37 482.89,991.47 484.60,990.57 486.32,989.67 488.03,988.77 489.75,987.86 491.46,986.96 493.18,986.06 494.89,985.15 496.60,984.24 498.32,983.34 500.03,982.43 501.75,981.53 503.46,980.62 505.18,979.71 506.89,978.81 508.61,977.90 510.32,976.99 512.03,976.08 513.75,975.18 515.46,974.27 517.18,973.36 518.89,972.45 520.61,971.55 522.32,970.64 524.04,969.73 525.75,968.82 527.46,967.91 529.18,967.00 530.89,966.10 532.61,965.19 534.32,964.28 536.04,963.37 537.75,962.46 539.47,961.55 541.18,960.64 542.90,959.73 544.61,958.82 546.32,957.91 548.04,957.01 549.75,956.10 551.47,955.19 553.18,954.28 554.90,953.37 556.61,952.46 558.33,951.55 560.04,950.64 561.75,949.73 563.47,948.82 565.18,947.91 566.90,947.00 568.61,946.09 570.33,945.18 572.04,944.27 573.76,943.36 575.47,942.45 577.19,941.54 578.90,940.63 580.61,939.72 582.33,938.81 584.04,937.90 585.76,936.99 587.47,936.08 589.19,935.17 590.90,934.26 592.62,933.35 594.33,932.44 596.05,931.53 597.76,930.62 599.47,929.71 601.19,928.80 602.90,927.89 604.62,926.98 606.33,926.07 608.05,925.16 609.76,924.25 611.48,923.34 613.19,922.43 614.90,921.52 616.62,920.61 618.33,919.70 620.05,918.79 621.76,917.89 623.48,916.98 625.19,916.07 626.91,915.16 628.62,914.25 630.34,913.34 632.05,912.43 633.76,911.53 635.48,910.62 637.19,909.71 638.91,908.80 640.62,907.89 642.34,906.99 644.05,906.08 645.77,905.17 647.48,904.26 649.19,903.36 650.91,902.45 652.62,901.54 654.34,900.64 656.05,899.73 657.77,898.82 659.48,897.92 661.20,897.01 662.91,896.11 664.62,895.20 666.34,894.29 668.05,893.39 669.77,892.48 671.48,891.58 673.20,890.67 674.91,889.77 676.63,888.86 678.34,887.96 680.06,887.05 681.77,886.15 683.48,885.24 685.20,884.34 686.91,883.44 688.63,882.53 690.34,881.63 692.06,880.72 693.77,879.82 695.49,878.92 697.20,878.01 698.91,877.11 700.63,876.21 702.34,875.30 704.06,874.40 705.77,873.49 707.49,872.59 709.20,871.69 710.92,870.79 712.63,869.88 714.35,868.98 716.06,868.08 717.77,867.17 719.49,866.27 721.20,865.37 722.92,864.46 724.63,863.56 726.35,862.66 728.06,861.76 729.78,860.85 731.49,859.95 733.20,859.05 734.92,858.14 736.63,857.24 738.35,856.34 740.06,855.44 741.78,854.53 743.49,853.63 745.21,852.73 746.92,851.83 748.64,850.92 750.35,850.02 752.06,849.12 753.78,848.22 755.49,847.31 757.21,846.41 758.92,845.51 760.64,844.61 762.35,843.70 764.07,842.80 765.78,841.90 767.50,841.00 769.21,840.09 770.92,839.19 772.64,838.29 774.35,837.38 776.07,836.48 777.78,835.58 779.50,834.68 781.21,833.77 782.93,832.87 784.64,831.97 786.35,831.06 788.07,830.16 789.78,829.26 791.50,828.35 793.21,827.45 794.93,826.55 796.64,825.64 798.36,824.74 800.07,823.84 801.78,822.93 803.50,822.03 805.21,821.13 806.93,820.22 808.64,819.32 810.36,818.41 812.07,817.51 813.79,816.61 815.50,815.70 817.22,814.80 818.93,813.89 820.64,812.99 822.36,812.08 824.07,811.18 825.79,810.27 827.50,809.37 829.22,808.46 830.93,807.56 832.65,806.65 834.36,805.75 836.07,804.84 837.79,803.94 839.50,803.03 841.22,802.13 842.93,801.22 844.65,800.31 846.36,799.41 848.08,798.50 849.79,797.59 851.51,796.69 853.22,795.78 854.93,794.87 856.65,793.96 858.36,793.06 860.08,792.15 861.79,791.24 863.51,790.33 865.22,789.43 866.94,788.52 868.65,787.61 870.37,786.70 872.08,785.79 873.79,784.88 875.51,783.98 877.22,783.07 878.94,782.16 880.65,781.25 882.37,780.34 884.08,779.43 885.80,778.52 887.51,777.61 889.22,776.70 890.94,775.79 892.65,774.88 894.37,773.97 896.08,773.06 897.80,772.15 899.51,771.24 901.23,770.33 902.94,769.43 904.65,768.52 906.37,767.61 908.08,766.70 909.80,765.79 911.51,764.88 913.23,763.97 914.94,763.06 916.66,762.15 918.37,761.24 920.09,760.33 921.80,759.42 923.51,758.51 925.23,757.60 926.94,756.68 928.66,755.77 930.37,754.86 932.09,753.95 933.80,753.04 935.52,752.13 937.23,751.23 938.94,750.32 940.66,749.41 942.37,748.50 944.09,747.59 945.80,746.68 947.52,745.77 949.23,744.86 950.95,743.95 952.66,743.04 954.38,742.13 956.09,741.22 957.80,740.31 959.52,739.40 961.23,738.49 962.95,737.58 964.66,736.67 966.38,735.76 968.09,734.86 969.81,733.95 971.52,733.04 973.24,732.13 974.95,731.22 976.66,730.31 978.38,729.40 980.09,728.50 981.81,727.59 983.52,726.68 985.24,725.77 986.95,724.87 988.67,723.96 990.38,723.05 992.09,722.14 993.81,721.24 995.52,720.33 997.24,719.42 998.95,718.52 1000.67,717.61 1002.38,716.70 1004.10,715.80 1005.81,714.89 1007.52,713.99 1009.24,713.08 1010.95,712.18 1012.67,711.27 1014.38,710.36 1016.10,709.46 1017.81,708.55 1019.53,707.65 1021.24,706.74 1022.96,705.84 1024.67,704.93 1026.38,704.03 1028.10,703.12 1029.81,702.21 1031.53,701.31 1033.24,700.40 1034.96,699.50 1036.67,698.59 1038.39,697.69 1040.10,696.78 1041.82,695.88 1043.53,694.97 1045.24,694.06 1046.96,693.16 1048.67,692.25 1050.39,691.35 1052.10,690.44 1053.82,689.54 1055.53,688.63 1057.25,687.73 1058.96,686.82 1060.67,685.91 1062.39,685.01 1064.10,684.10 1065.82,683.20 1067.53,682.29 1069.25,681.39 1070.96,680.48 1072.68,679.58 1074.39,678.67 1076.11,677.76 1077.82,676.86 1079.53,675.95 1081.25,675.05 1082.96,674.14 1084.68,673.24 1086.39,672.33 1088.11,671.43 1089.82,670.52 1091.54,669.61 1093.25,668.71 1094.96,667.80 1096.68,666.90 1098.39,665.99 1100.11,665.09 1101.82,664.18 1103.54,663.28 1105.25,662.37 1106.97,661.46 1108.68,660.56 1110.39,659.65 1112.11,658.75 1113.82,657.84 1115.54,656.94 1117.25,656.03 1118.97,655.13 1120.68,654.22 1122.40,653.31 1124.11,652.41 1125.83,651.50 1127.54,650.60 1129.25,649.69 1130.97,648.79 1132.68,647.88 1134.40,646.98 1136.11,646.07 1137.83,645.16 1139.54,644.26 1141.26,643.35 1142.97,642.45 1144.68,641.54 1146.40,640.64 1148.11,639.73 1149.83,638.83 1151.54,637.92 1153.26,637.01 1154.97,636.11 1156.69,635.20 1158.40,634.30 1160.12,633.39 1161.83,632.49 1163.54,631.58 1165.26,630.68 1166.97,629.77 1168.69,628.86 1170.40,627.96 1172.12,627.05 1173.83,626.15 1175.55,625.24 1177.26,624.34 1178.97,623.43 1180.69,622.53 1182.40,621.62 1184.12,620.71 1185.83,619.81 1187.55,618.90 1189.26,618.00 1190.98,617.09 1192.69,616.19 1194.41,615.28 1196.12,614.38 1197.83,613.47 1199.55,612.56 1201.26,611.66 1202.98,610.75 1204.69,609.85 1206.41,608.94 1208.12,608.04 1209.84,607.13 1211.55,606.23 1213.26,605.32 1214.98,604.41 1216.69,603.51 1218.41,602.60 1220.12,601.70 1221.84,600.79 1223.55,599.89 1225.27,598.98 1226.98,598.08 1228.70,597.17 1230.41,596.26 1232.12,595.36 1233.84,594.45 1235.55,593.55 1237.27,592.64 1238.98,591.74 1240.70,590.83 1242.41,589.93 1244.13,589.02 1245.84,588.11 1247.55,587.21 1249.27,586.30 1250.98,585.40 1252.70,584.49 1254.41,583.59 1256.13,582.68 1257.84,581.78 1259.56,580.87 1261.27,579.96 1262.99,579.06 1264.70,578.15 1266.41,577.25 1268.13,576.34 1269.84,575.44 1271.56,574.53 1273.27,573.62 1274.99,572.72 1276.70,571.81 1278.42,570.91 1280.13,570.00 1281.85,569.09 1283.56,568.19 1285.27,567.28 1286.99,566.37 1288.70,565.47 1290.42,564.56 1292.13,563.65 1293.85,562.75 1295.56,561.84 1297.28,560.93 1298.99,560.03 1300.70,559.12 1302.42,558.21 1304.13,557.31 1305.85,556.40 1307.56,555.49 1309.28,554.59 1310.99,553.68 1312.71,552.77 1314.42,551.86 1316.13,550.96 1317.85,550.05 1319.56,549.14 1321.28,548.23 1322.99,547.33 1324.71,546.42 1326.42,545.51 1328.14,544.60 1329.85,543.69 1331.57,542.79 1333.28,541.88 1334.99,540.97 1336.71,540.06 1338.42,539.15 1340.14,538.25 1341.85,537.34 1343.57,536.43 1345.28,535.52 1347.00,534.61 1348.71,533.70 1350.42,532.80 1352.14,531.89 1353.85,530.98 1355.57,530.07 1357.28,529.16 1359.00,528.25 1360.71,527.35 1362.43,526.44 1364.14,525.53 1365.86,524.62 1367.57,523.71 1369.28,522.80 1371.00,521.89 1372.71,520.98 1374.43,520.08 1376.14,519.17 1377.86,518.26 1379.57,517.35 1381.29,516.44 1383.00,515.53 1384.71,514.62 1386.43,513.71 1388.14,512.80 1389.86,511.90 1391.57,510.99 1393.29,510.08 1395.00,509.17 1396.72,508.26 1398.43,507.35 1400.15,506.44 1401.86,505.53 1403.57,504.62 1405.29,503.71 1407.00,502.80 1408.72,501.90 1410.43,500.99 1412.15,500.08 1413.86,499.17 1415.58,498.26 1417.29,497.35 1419.00,496.44 1420.72,495.53 1422.43,494.62 1424.15,493.71 1425.86,492.80 1427.58,491.89 1429.29,490.98 1431.01,490.07 1432.72,489.17 1434.44,488.26 1436.15,487.35 1437.86,486.44 1439.58,485.53 1441.29,484.62 1443.01,483.71 1444.72,482.80 1446.44,481.89 1448.15,480.98 1449.87,480.07 1451.58,479.16 1453.30,478.25 1455.01,477.34 1456.72,476.44 1458.44,475.53 1460.15,474.62 1461.87,473.71 1463.58,472.80 1465.30,471.89 1467.01,470.98 1468.73,470.07 1470.44,469.16 1472.15,468.25 1473.87,467.34 1475.58,466.43 1477.30,465.52 1479.01,464.62 1480.73,463.71 1482.44,462.80 1484.16,461.89 1485.87,460.98 1487.59,460.07 1489.30,459.16 1491.01,458.25 1492.73,457.34 1494.44,456.43 1496.16,455.53 1497.87,454.62 1499.59,453.71 1501.30,452.80 1503.02,451.89 1504.73,450.98 1506.44,450.07 1508.16,449.16 1509.87,448.26 1511.59,447.35 1513.30,446.44 1515.02,445.53 1516.73,444.62 1518.45,443.71 1520.16,442.81 1521.88,441.90 1523.59,440.99 1525.30,440.08 1527.02,439.17 1528.73,438.26 1530.45,437.36 1532.16,436.45 1533.88,435.54 1535.59,434.63 1537.31,433.72 1539.02,432.81 1540.73,431.91 1542.45,431.00 1544.16,430.09 1545.88,429.18 1547.59,428.28 1549.31,427.37 1551.02,426.46 1552.74,425.55 1554.45,424.65 1556.16,423.74 1557.88,422.83 1559.59,421.92 1561.31,421.02 1563.02,420.11 1564.74,419.20 1566.45,418.29 1568.17,417.39 1569.88,416.48 1571.60,415.57 1573.31,414.67 1575.02,413.76 1576.74,412.85 1578.45,411.95 1580.17,411.04 1581.88,410.13 1583.60,409.23 1585.31,408.32 1587.03,407.41 1588.74,406.51 1590.45,405.60 1592.17,404.69 1593.88,403.79 1595.60,402.88 1597.31,401.98 1599.03,401.07 1600.74,400.16 1602.46,399.26 1604.17,398.35 1605.89,397.45 1607.60,396.54 1609.31,395.63 1611.03,394.73 1612.74,393.82 1614.46,392.92 1616.17,392.01 1617.89,391.11 1619.60,390.20 1621.32,389.30 1623.03,388.39 1624.74,387.48 1626.46,386.58 1628.17,385.67 1629.89,384.77 1631.60,383.86 1633.32,382.96 1635.03,382.05 1636.75,381.15 1638.46,380.24 1640.18,379.33 1641.89,378.43 1643.60,377.52 1645.32,376.62 1647.03,375.71 1648.75,374.81 1650.46,373.90 1652.18,373.00 1653.89,372.09 1655.61,371.18 1657.32,370.28 1659.03,369.37 1660.75,368.47 1662.46,367.56 1664.18,366.66 1665.89,365.75 1667.61,364.85 1669.32,363.94 1671.04,363.03 1672.75,362.13 1674.47,361.22 1676.18,360.32 1677.89,359.41 1679.61,358.51 1681.32,357.60 1683.04,356.70 1684.75,355.79 1686.47,354.88 1688.18,353.98 1689.90,353.07 1691.61,352.17 1693.33,351.26 1695.04,350.36 1696.75,349.45 1698.47,348.55 1700.18,347.64 1701.90,346.73 1703.61,345.83 1705.33,344.92 1707.04,344.02 1708.76,343.11 1710.47,342.21 1712.18,341.30 1713.90,340.40 1715.61,339.49 1717.33,338.58 1719.04,337.68 1720.76,336.77 1722.47,335.87 1724.19,334.96 1725.90,334.06 1727.62,333.15 1729.33,332.25 1731.04,331.34 1732.76,330.43 1734.47,329.53 1736.19,328.62 1737.90,327.72 1739.62,326.81 1741.33,325.91 1743.05,325.00 1744.76,324.10 1746.47,323.19 1748.19,322.28 1749.90,321.38 1751.62,320.47 1753.33,319.57 1755.05,318.66 1756.76,317.76 1758.48,316.85 1760.19,315.95 1761.90,315.04 1763.62,314.13 1765.33,313.23 1767.05,312.32 1768.76,311.42 1770.48,310.51 1772.19,309.61 1773.91,308.70 1775.62,307.80 1777.34,306.89 1779.05,305.98 1780.76,305.08 1782.48,304.17 1784.19,303.27 1785.91,302.36 1787.62,301.46 1789.34,300.55 1791.05,299.65 1792.77,298.74 1794.48,297.83 1796.19,296.93 1797.91,296.02 1799.62,295.12 1801.34,294.21 1803.05,293.31 1804.77,292.40 1806.48,291.50 1808.20,290.59 1809.91,289.68 1811.63,288.78 1813.34,287.87 1815.05,286.97 1816.77,286.06 1818.48,285.16 1820.20,284.25 1821.91,283.35 1823.63,282.44 1825.34,281.53 1827.06,280.63 1828.77,279.72 1830.48,278.82 1832.20,277.91 1833.91,277.01 1835.63,276.10 1837.34,275.20 1839.06,274.29 1840.77,273.38 1842.49,272.48 1844.20,271.57 1845.92,270.67 1847.63,269.76 1849.34,268.86 1851.06,267.95 1852.77,267.05 1854.49,266.14 1856.20,265.23 1857.92,264.33 1859.63,263.42 1861.35,262.52 1863.06,261.61 1864.77,260.71 1866.49,259.80 1868.20,258.90 1869.92,257.99 1871.63,257.08 1873.35,256.18 1875.06,255.27 1876.78,254.37 1878.49,253.46 1880.21,252.56 1881.92,251.65 1883.63,250.75 1885.35,249.84 1887.06,248.93 1888.78,248.03 1890.49,247.12 1892.21,246.22 1893.92,245.31 1895.64,244.41 1897.35,243.50 1899.07,242.60 1900.78,241.69 1902.49,240.78 1904.21,239.88 1905.92,238.97 1907.64,238.07 1909.35,237.16 1911.07,236.26 1912.78,235.35 1914.50,234.44 1916.21,233.54 1917.92,232.63 1919.64,231.73 1921.35,230.82 1923.07,229.92 1924.78,229.01 1926.50,228.11 1928.21,227.20 1929.93,226.29 1931.64,225.39 1933.36,224.48 1935.07,223.58 1936.78,222.67 1938.50,221.77 1940.21,220.86 1941.93,219.96 1943.64,219.05 1945.36,218.14 1947.07,217.24 1948.79,216.33 1950.50,215.43"/>
<polyline id="c-black" stroke="#000000" stroke-width="10.6" points="236.00,1068.92 237.71,1068.92 239.43,1068.92 241.14,1068.92 242.86,1068.92 244.57,1068.92 246.29,1068.92 248.00,1068.92 249.72,1068.92 251.43,1068.92 253.15,1068.92 254.86,1068.92 256.57,1068.92 258.29,1068.92 260.00,1068.92 261.72,1068.92 263.43,1068.92 265.15,1068.92 266.86,1068.92 268.58,1068.91 270.29,1068.91 272.00,1068.91 273.72,1068.91 275.43,1068.91 277.15,1068.91 278.86,1068.91 280.58,1068.90 282.29,1068.90 284.01,1068.90 285.72,1068.89 287.44,1068.89 289.15,1068.88 290.86,1068.88 292.58,1068.87 294.29,1068.86 296.01,1068.85 297.72,1068.83 299.44,1068.82 301.15,1068.80 302.87,1068.78 304.58,1068.75 306.29,1068.72 308.01,1068.69 309.72,1068.65 311.44,1068.60 313.15,1068.54 314.87,1068.48 316.58,1068.40 318.30,1068.31 320.01,1068.21 321.73,1068.09 323.44,1067.95 325.15,1067.79 326.87,1067.61 328.58,1067.40 330.30,1067.17 332.01,1066.90 333.73,1066.60 335.44,1066.27 337.16,1065.90 338.87,1065.49 340.58,1065.05 342.30,1064.57 344.01,1064.04 345.73,1063.49 347.44,1062.89 349.16,1062.26 350.87,1061.60 352.59,1060.91 354.30,1060.20 356.01,1059.45 357.73,1058.69 359.44,1057.90 361.16,1057.10 362.87,1056.28 364.59,1055.45 366.30,1054.60 368.02,1053.75 369.73,1052.88 371.45,1052.01 373.16,1051.13 374.87,1050.24 376.59,1049.35 378.30,1048.45 380.02,1047.55 381.73,1046.65 383.45,1045.75 385.16,1044.84 386.88,1043.93 388.59,1043.02 390.31,1042.11 392.02,1041.20 393.73,1040.28 395.45,1039.37 397.16,1038.45 398.88,1037.53 400.59,1036.62 402.31,1035.70 404.02,1034.78 405.74,1033.86 407.45,1032.94 409.16,1032.03 410.88,1031.11 412.59,1030.19 414.31,1029.27 416.02,1028.35 417.74,1027.43 419.45,1026.51 421.17,1025.59 422.88,1024.67 424.60,1023.75 426.31,1022.83 428.02,1021.91 429.74,1020.99 431.45,1020.07 433.17,1019.15 434.88,1018.23 436.60,1017.31 438.31,1016.40 440.03,1015.48 441.74,1014.56 443.45,1013.64 445.17,1012.72 446.88,1011.80 448.60,1010.88 450.31,1009.96 452.03,1009.04 453.74,1008.12 455.46,1007.20 457.17,1006.28 458.88,1005.36 460.60,1004.44 462.31,1003.52 464.03,1002.60 465.74,1001.68 467.46,1000.76 469.17,999.84 470.89,998.92 472.60,998.00 474.32,997.08 476.03,996.16 477.74,995.24 479.46,994.32 481.17,993.40 482.89,992.48 484.60,991.56 486.32,990.64 488.03,989.72 489.75,988.80 491.46,987.88 493.18,986.96 494.89,986.04 496.60,985.12 498.32,984.20 500.03,983.28 501.75,982.36 503.46,981.44 505.18,980.52 506.89,979.60 508.61,978.68 510.32,977.76 512.03,976.84 513.75,975.92 515.46,975.00 517.18,974.08 518.89,973.16 520.61,972.24 522.32,971.32 524.04,970.40 525.75,969.48 527.46,968.56 529.18,967.64 530.89,966.72 532.61,965.80 534.32,964.88 536.04,963.96 537.75,963.04 539.47,962.12 541.18,961.20 542.90,960.28 544.61,959.36 546.32,958.44 548.04,957.52 549.75,956.60 551.47,955.68 553.18,954.76 554.90,953.84 556.61,952.92 558.33,952.00 560.04,951.08 561.75,950.16 563.47,949.25 565.18,948.33 566.90,947.41 568.61,946.49 570.33,945.57 572.04,944.65 573.76,943.73 575.47,942.81 577.19,941.89 578.90,940.97 580.61,940.05 582.33,939.13 584.04,938.21 585.76,937.29 587.47,936.37 589.19,935.45 590.90,934.53 592.62,933.61 594.33,932.69 596.05,931.77 597.76,930.85 599.47,929.93 601.19,929.01 602.90,928.09 604.62,927.17 606.33,926.25 608.05,925.33 609.76,924.41 611.48,923.49 613.19,922.57 614.90,921.65 616.62,920.73 618.33,919.81 620.05,918.89 621.76,917.97 623.48,917.05 625.19,916.13 626.91,915.21 628.62,914.29 630.34,913.37 632.05,912.45 633.76,911.53 635.48,910.61 637.19,909.69 638.91,908.77 640.62,907.85 642.34,906.93 644.05,906.01 645.77,905.09 647.48,904.17 649.19,903.25 650.91,902.33 652.62,901.41 654.34,900.49 656.05,899.57 657.77,898.65 659.48,897.73 661.20,896.81 662.91,895.89 664.62,894.97 666.34,894.05 668.05,893.13 669.77,892.21 671.48,891.29 673.20,890.37 674.91,889.46 676.63,888.54 678.34,887.62 680.06,886.70 681.77,885.78 683.48,884.86 685.20,883.94 686.91,883.02 688.63,882.10 690.34,881.19 692.06,880.27 693.77,879.35 695.49,878.43 697.20,877.51 698.91,876.60 700.63,875.68 702.34,874.76 704.06,873.84 705.77,872.92 707.49,872.01 709.20,871.09 710.92,870.17 712.63,869.25 714.35,868.34 716.06,867.42 717.77,866.50 719.49,865.59 721.20,864.67 722.92,863.75 724.63,862.83 726.35,861.92 728.06,861.00 729.78,860.08 731.49,859.17 733.20,858.25 734.92,857.33 736.63,856.42 738.35,855.50 740.06,854.59 741.78,853.67 743.49,852.75 745.21,851.84 746.92,850.92 748.64,850.00 750.35,849.09 752.06,848.17 753.78,847.26 755.49,846.34 757.21,845.43 758.92,844.51 760.64,843.59 762.35,842.68 764.07,841.76 765.78,840.85 767.50,839.93 769.21,839.02 770.92,838.10 772.64,837.19 774.35,836.27 776.07,835.36 777.78,834.44 779.50,833.52 781.21,832.61 782.93,831.69 784.64,830.78 786.35,829.86 788.07,828.95 789.78,828.03 791.50,827.12 793.21,826.20 794.93,825.29 796.64,824.37 798.36,823.46 800.07,822.54 801.78,821.63 803.50,820.71 805.21,819.80 806.93,818.89 808.64,817.97 810.36,817.06 812.07,816.14 813.79,815.23 815.50,814.31 817.22,813.40 818.93,812.48 820.64,811.57 822.36,810.65 824.07,809.74 825.79,808.82 827.50,807.91 829.22,806.99 830.93,806.08 832.65,805.17 834.36,804.25 836.07,803.34 837.79,802.42 839.50,801.51 841.22,800.59 842.93,799.68 844.65,798.76 846.36,797.85 848.08,796.93 849.79,796.02 851.51,795.10 853.22,794.19 854.93,793.27 856.65,792.36 858.36,791.45 860.08,790.53 861.79,789.62 863.51,788.70 865.22,787.79 866.94,786.87 868.65,785.96 870.37,785.04 872.08,784.13 873.79,783.21 875.51,782.30 877.22,781.38 878.94,780.47 880.65,779.55 882.37,778.64 884.08,777.72 885.80,776.81 887.51,775.89 889.22,774.98 890.94,774.06 892.65,773.15 894.37,772.23 896.08,771.32 897.80,770.40 899.51,769.49 901.23,768.57 902.94,767.66 904.65,766.74 906.37,765.82 908.08,764.91 909.80,763.99 911.51,763.08 913.23,762.16 914.94,761.25 916.66,760.33 918.37,759.41 920.09,758.50 921.80,757.58 923.51,756.67 925.23,755.75 926.94,754.84 928.66,753.92 930.37,753.00 932.09,752.09 933.80,751.17 935.52,750.25 937.23,749.34 938.94,748.42 940.66,747.50 942.37,746.59 944.09,745.67 945.80,744.75 947.52,743.84 949.23,742.92 950.95,742.00 952.66,741.09 954.38,740.17 956.09,739.25 957.80,738.34 959.52,737.42 961.23,736.50 962.95,735.58 964.66,734.67 966.38,733.75 968.09,732.83 969.81,731.91 971.52,730.99 973.24,730.08 974.95,729.16 976.66,728.24 978.38,727.32 980.09,726.40 981.81,725.49 983.52,724.57 985.24,723.65 986.95,722.73 988.67,721.81 990.38,720.89 992.09,719.97 993.81,719.05 995.52,718.14 997.24,717.22 998.95,716.30 1000.67,715.38 1002.38,714.46 1004.10,713.54 1005.81,712.62 1007.52,711.70 1009.24,710.78 1010.95,709.86 1012.67,708.94 1014.38,708.02 1016.10,707.10 1017.81,706.18 1019.53,705.26 1021.24,704.35 1022.96,703.43 1024.67,702.51 1026.38,701.59 1028.10,700.67 1029.81,699.76 1031.53,698.84 1033.24,697.92 1034.96,697.01 1036.67,696.09 1038.39,695.17 1040.10,694.26 1041.82,693.34 1043.53,692.42 1045.24,691.51 1046.96,690.59 1048.67,689.68 1050.39,688.76 1052.10,687.85 1053.82,686.93 1055.53,686.02 1057.25,685.10 1058.96,684.19 1060.67,683.27 1062.39,682.36 1064.10,681.44 1065.82,680.53 1067.53,679.61 1069.25,678.70 1070.96,677.79 1072.68,676.87 1074.39,675.96 1076.11,675.04 1077.82,674.13 1079.53,673.22 1081.25,672.30 1082.96,671.39 1084.68,670.48 1086.39,669.57 1088.11,668.65 1089.82,667.74 1091.54,666.83 1093.25,665.91 1094.96,665.00 1096.68,664.09 1098.39,663.18 1100.11,662.26 1101.82,661.35 1103.54,660.44 1105.25,659.53 1106.97,658.62 1108.68,657.70 1110.39,656.79 1112.11,655.88 1113.82,654.97 1115.54,654.06 1117.25,653.15 1118.97,652.23 1120.68,651.32 1122.40,650.41 1124.11,649.50 1125.83,648.59 1127.54,647.68 1129.25,646.77 1130.97,645.85 1132.68,644.94 1134.40,644.03 1136.11,643.12 1137.83,642.21 1139.54,641.30 1141.26,640.39 1142.97,639.48 1144.68,638.57 1146.40,637.65 1148.11,636.74 1149.83,635.83 1151.54,634.92 1153.26,634.01 1154.97,633.10 1156.69,632.19 1158.40,631.28 1160.12,630.37 1161.83,629.45 1163.54,628.54 1165.26,627.63 1166.97,626.72 1168.69,625.81 1170.40,624.90 1172.12,623.99 1173.83,623.08 1175.55,622.17 1177.26,621.25 1178.97,620.34 1180.69,619.43 1182.40,618.52 1184.12,617.61 1185.83,616.70 1187.55,615.79 1189.26,614.87 1190.98,613.96 1192.69,613.05 1194.41,612.14 1196.12,611.23 1197.83,610.32 1199.55,609.40 1201.26,608.49 1202.98,607.58 1204.69,606.67 1206.41,605.76 1208.12,604.84 1209.84,603.93 1211.55,603.02 1213.26,602.11 1214.98,601.19 1216.69,600.28 1218.41,599.37 1220.12,598.46 1221.84,597.54 1223.55,596.63 1225.27,595.72 1226.98,594.80 1228.70,593.89 1230.41,592.98 1232.12,592.06 1233.84,591.15 1235.55,590.24 1237.27,589.32 1238.98,588.41 1240.70,587.49 1242.41,586.58 1244.13,585.66 1245.84,584.75 1247.55,583.83 1249.27,582.92 1250.98,582.01 1252.70,581.09 1254.41,580.17 1256.13,579.26 1257.84,578.34 1259.56,577.43 1261.27,576.51 1262.99,575.60 1264.70,574.68 1266.41,573.76 1268.13,572.85 1269.84,571.93 1271.56,571.01 1273.27,570.10 1274.99,569.18 1276.70,568.26 1278.42,567.35 1280.13,566.43 1281.85,565.51 1283.56,564.59 1285.27,563.67 1286.99,562.76 1288.70,561.84 1290.42,560.92 1292.13,560.00 1293.85,559.08 1295.56,558.16 1297.28,557.24 1298.99,556.32 1300.70,555.40 1302.42,554.48 1304.13,553.56 1305.85,552.64 1307.56,551.72 1309.28,550.80 1310.99,549.88 1312.71,548.96 1314.42,548.04 1316.13,547.12 1317.85,546.20 1319.56,545.27 1321.28,544.35 1322.99,543.43 1324.71,542.51 1326.42,541.59 1328.14,540.67 1329.85,539.74 1331.57,538.82 1333.28,537.90 1334.99,536.98 1336.71,536.06 1338.42,535.13 1340.14,534.21 1341.85,533.29 1343.57,532.37 1345.28,531.44 1347.00,530.52 1348.71,529.60 1350.42,528.67 1352.14,527.75 1353.85,526.83 1355.57,525.90 1357.28,524.98 1359.00,524.06 1360.71,523.13 1362.43,522.21 1364.14,521.29 1365.86,520.36 1367.57,519.44 1369.28,518.51 1371.00,517.59 1372.71,516.67 1374.43,515.74 1376.14,514.82 1377.86,513.89 1379.57,512.97 1381.29,512.04 1383.00,511.12 1384.71,510.20 1386.43,509.27 1388.14,508.35 1389.86,507.42 1391.57,506.50 1393.29,505.57 1395.00,504.65 1396.72,503.72 1398.43,502.80 1400.15,501.87 1401.86,500.95 1403.57,500.02 1405.29,499.10 1407.00,498.17 1408.72,497.25 1410.43,496.32 1412.15,495.40 1413.86,494.47 1415.58,493.55 1417.29,492.62 1419.00,491.70 1420.72,490.77 1422.43,489.84 1424.15,488.92 1425.86,487.99 1427.58,487.07 1429.29,486.14 1431.01,485.22 1432.72,484.29 1434.44,483.37 1436.15,482.44 1437.86,481.51 1439.58,480.59 1441.29,479.66 1443.01,478.74 1444.72,477.81 1446.44,476.89 1448.15,475.96 1449.87,475.03 1451.58,474.11 1453.30,473.18 1455.01,472.26 1456.72,471.33 1458.44,470.41 1460.15,469.48 1461.87,468.55 1463.58,467.63 1465.30,466.70 1467.01,465.78 1468.73,464.85 1470.44,463.93 1472.15,463.00 1473.87,462.08 1475.58,461.15 1477.30,460.22 1479.01,459.30 1480.73,458.37 1482.44,457.45 1484.16,456.52 1485.87,455.60 1487.59,454.67 1489.30,453.75 1491.01,452.82 1492.73,451.89 1494.44,450.97 1496.16,450.04 1497.87,449.12 1499.59,448.19 1501.30,447.27 1503.02,446.34 1504.73,445.42 1506.44,444.49 1508.16,443.57 1509.87,442.64 1511.59,441.72 1513.30,440.79 1515.02,439.87 1516.73,438.94 1518.45,438.02 1520.16,437.10 1521.88,436.17 1523.59,435.25 1525.30,434.32 1527.02,433.40 1528.73,432.47 1530.45,431.55 1532.16,430.62 1533.88,429.70 1535.59,428.78 1537.31,427.85 1539.02,426.93 1540.73,426.00 1542.45,425.08 1544.16,424.16 1545.88,423.23 1547.59,422.31 1549.31,421.39 1551.02,420.46 1552.74,419.54 1554.45,418.62 1556.16,417.69 1557.88,416.77 1559.59,415.85 1561.31,414.92 1563.02,414.00 1564.74,413.08 1566.45,412.16 1568.17,411.23 1569.88,410.31 1571.60,409.39 1573.31,408.47 1575.02,407.54 1576.74,406.62 1578.45,405.70 1580.17,404.78 1581.88,403.86 1583.60,402.94 1585.31,402.01 1587.03,401.09 1588.74,400.17 1590.45,399.25 1592.17,398.33 1593.88,397.41 1595.60,396.49 1597.31,395.57 1599.03,394.65 1600.74,393.73 1602.46,392.81 1604.17,391.88 1605.89,390.96 1607.60,390.04 1609.31,389.13 1611.03,388.20 1612.74,387.28 1614.46,386.36 1616.17,385.44 1617.89,384.52 1619.60,383.60 1621.32,382.68 1623.03,381.76 1624.74,380.84 1626.46,379.92 1628.17,378.99 1629.89,378.07 1631.60,377.15 1633.32,376.23 1635.03,375.30 1636.75,374.38 1638.46,373.46 1640.18,372.53 1641.89,371.61 1643.60,370.69 1645.32,369.76 1647.03,368.84 1648.75,367.92 1650.46,366.99 1652.18,366.07 1653.89,365.14 1655.61,364.22 1657.32,363.29 1659.03,362.37 1660.75,361.45 1662.46,360.52 1664.18,359.59 1665.89,358.67 1667.61,357.74 1669.32,356.82 1671.04,355.89 1672.75,354.97 1674.47,354.04 1676.18,353.12 1677.89,352.19 1679.61,351.26 1681.32,350.34 1683.04,349.41 1684.75,348.48 1686.47,347.56 1688.18,346.63 1689.90,345.70 1691.61,344.78 1693.33,343.85 1695.04,342.92 1696.75,341.99 1698.47,341.07 1700.18,340.14 1701.90,339.21 1703.61,338.28 1705.33,337.36 1707.04,336.43 1708.76,335.50 1710.47,334.57 1712.18,333.64 1713.90,332.72 1715.61,331.79 1717.33,330.86 1719.04,329.93 1720.76,329.00 1722.47,328.07 1724.19,327.15 1725.90,326.22 1727.62,325.29 1729.33,324.36 1731.04,323.43 1732.76,322.50 1734.47,321.57 1736.19,320.64 1737.90,319.71 1739.62,318.79 1741.33,317.86 1743.05,316.93 1744.76,316.00 1746.47,315.07 1748.19,314.14 1749.90,313.21 1751.62,312.28 1753.33,311.35 1755.05,310.42 1756.76,309.49 1758.48,308.56 1760.19,307.63 1761.90,306.70 1763.62,305.77 1765.33,304.84 1767.05,303.92 1768.76,302.99 1770.48,302.06 1772.19,301.13 1773.91,300.20 1775.62,299.27 1777.34,298.34 1779.05,297.41 1780.76,296.48 1782.48,295.55 1784.19,294.62 1785.91,293.69 1787.62,292.76 1789.34,291.83 1791.05,290.90 1792.77,289.97 1794.48,289.04 1796.19,288.11 1797.91,287.18 1799.62,286.25 1801.34,285.32 1803.05,284.39 1804.77,283.46 1806.48,282.54 1808.20,281.61 1809.91,280.68 1811.63,279.75 1813.34,278.82 1815.05,277.89 1816.77,276.96 1818.48,276.03 1820.20,275.10 1821.91,274.17 1823.63,273.24 1825.34,272.31 1827.06,271.39 1828.77,270.46 1830.48,269.53 1832.20,268.60 1833.91,267.67 1835.63,266.74 1837.34,265.81 1839.06,264.89 1840.77,263.96 1842.49,263.03 1844.20,262.10 1845.92,261.17 1847.63,260.24 1849.34,259.32 1851.06,258.39 1852.77,257.46 1854.49,256.53 1856.20,255.60 1857.92,254.68 1859.63,253.75 1861.35,252.82 1863.06,251.90 1864.77,250.97 1866.49,250.04 1868.20,249.11 1869.92,248.19 1871.63,247.26 1873.35,246.33 1875.06,245.41 1876.78,244.48 1878.49,243.55 1880.21,242.63 1881.92,241.70 1883.63,240.78 1885.35,239.85 1887.06,238.92 1888.78,238.00 1890.49,237.07 1892.21,236.15 1893.92,235.22 1895.64,234.30 1897.35,233.37 1899.07,232.45 1900.78,231.52 1902.49,230.60 1904.21,229.67 1905.92,228.75 1907.64,227.82 1909.35,226.90 1911.07,225.98 1912.78,225.05 1914.50,224.13 1916.21,223.20 1917.92,222.28 1919.64,221.36 1921.35,220.44 1923.07,219.51 1924.78,218.59 1926.50,217.67 1928.21,216.75 1929.93,215.82 1931.64,214.90 1933.36,213.98 1935.07,213.06 1936.78,212.14 1938.50,211.21 1940.21,210.29 1941.93,209.37 1943.64,208.45 1945.36,207.53 1947.07,206.61 1948.79,205.69 1950.50,204.77"/>
</g>
<g fill="#262626" font-size="68.6" stroke="#fff" stroke-width="0.6" paint-order="fill stroke">
<text id="xt0" x="235.70" y="1190.0" text-anchor="middle">0</text>
<text id="xt20" x="577.10" y="1190.0" text-anchor="middle" letter-spacing="-1.6">20</text>
<text id="xt40" x="920.00" y="1190.0" text-anchor="middle" letter-spacing="-1.6">40</text>
<text id="xt60" x="1262.90" y="1190.0" text-anchor="middle" letter-spacing="-1.6">60</text>
<text id="xt80" x="1605.80" y="1190.0" text-anchor="middle" letter-spacing="-1.6">80</text>
<text id="xt100" x="1948.70" y="1190.0" text-anchor="middle">100</text>
<text id="yt0" x="217.3" y="1126.20" text-anchor="end">0</text>
<text id="yt5" x="217.3" y="915.80" text-anchor="end">5</text>
<text id="yt10" x="215.20000000000002" y="705.40" text-anchor="end" letter-spacing="-1.6">10</text>
<text id="yt15" x="215.20000000000002" y="495.00" text-anchor="end" letter-spacing="-1.6">15</text>
<text id="yt20" x="215.20000000000002" y="284.60" text-anchor="end" letter-spacing="-1.6">20</text>
<text id="yt25" x="215.20000000000002" y="74.20" text-anchor="end" letter-spacing="-1.6">25</text>
</g>
<g fill="#262626" font-size="78.5" font-style="italic" stroke="#fff" stroke-width="0.8" paint-order="fill stroke">
<text id="xlZ" transform="translate(1054.0,1288.6) scale(1.085,1)" x="0" y="0" text-anchor="middle">Z</text>
<text id="xlS" x="1088.7" y="1290.2" text-anchor="middle" font-style="normal" font-size="84">/</text>
<text id="xlD" x="1128.7" y="1288.6" text-anchor="middle">D</text>
<g transform="translate(81.5,649) rotate(-90)">
<text id="ylU1" transform="translate(17.85,0) scale(0.95,1)" x="0" y="0" text-anchor="middle">u</text>
<text id="yl0" transform="translate(54.55,36.4) scale(0.92,1)" x="0" y="0" text-anchor="middle" font-size="63">0</text>
<text id="ylS" x="80.1" y="0" text-anchor="middle" font-style="normal">/</text>
<text id="ylU2" transform="translate(110.85,0) scale(0.95,1)" x="0" y="0" text-anchor="middle">u</text>
</g></g>
<rect x="269.5" y="90.5" width="509.5" height="343.3" fill="#fff" stroke="#262626" stroke-width="2.6" shape-rendering="crispEdges"/>
<line x1="276" y1="136" x2="346" y2="136" stroke="#0072BD" stroke-width="10" stroke-dasharray="35.8 8.2 18.6 8.2" shape-rendering="crispEdges"/>
<text id="lg-blue" y="149.3" font-size="62.2" font-style="italic" fill="#000" stroke="#fff" stroke-width="0.9" paint-order="fill stroke"><tspan id="lgw-blue" x="350.9" letter-spacing="2.1">Nodes</tspan> <tspan id="lgn-blue" x="530.6" letter-spacing="-1.2">184,154</tspan></text>
<line x1="276" y1="220" x2="346" y2="220" stroke="#008000" stroke-width="10" stroke-dasharray="10.3 7.39" shape-rendering="crispEdges"/>
<text id="lg-green" y="233.3" font-size="62.2" font-style="italic" fill="#000" stroke="#fff" stroke-width="0.9" paint-order="fill stroke"><tspan id="lgw-green" x="350.9" letter-spacing="2.1">Nodes</tspan> <tspan id="lgn-green" x="530.6" letter-spacing="-1.2">1,547,176</tspan></text>
<line x1="276" y1="304.5" x2="348.2" y2="304.5" stroke="#FF0000" stroke-width="13" stroke-dasharray="45 39.86" shape-rendering="crispEdges"/>
<text id="lg-red" y="317.7" font-size="62.2" font-style="italic" fill="#000" stroke="#fff" stroke-width="0.9" paint-order="fill stroke"><tspan id="lgw-red" x="350.9" letter-spacing="2.1">Nodes</tspan> <tspan id="lgn-red" x="530.6" letter-spacing="-1.2">3,362,376</tspan></text>
<line x1="276" y1="388.5" x2="348.2" y2="388.5" stroke="#000000" stroke-width="11" shape-rendering="crispEdges"/>
<text id="lg-black" y="401.7" font-size="62.2" font-style="italic" fill="#000" stroke="#fff" stroke-width="0.9" paint-order="fill stroke"><tspan id="lgw-black" x="350.9" letter-spacing="2.1">Nodes</tspan> <tspan id="lgn-black" x="530.6" letter-spacing="-1.2">4,828,444</tspan></text>
</svg></body></html>
